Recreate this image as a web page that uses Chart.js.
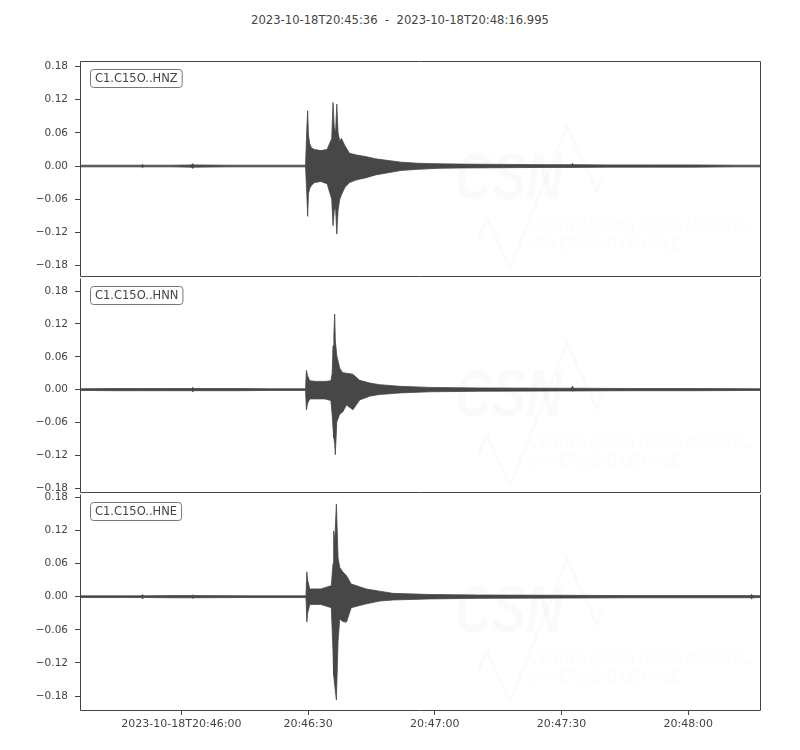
<!DOCTYPE html>
<html>
<head>
<meta charset="utf-8">
<script src="https://cdn.jsdelivr.net/npm/chart.js@4.4.0/dist/chart.umd.min.js"></script>
<style>
body{margin:0;background:#fff;width:800px;height:750px;position:relative;overflow:hidden;font-family:"DejaVu Sans",sans-serif;}
#title{position:absolute;left:0;width:800px;top:13px;line-height:15px;text-align:center;font-size:11.6px;color:#444;white-space:pre;}
canvas{position:absolute;left:0;}
</style>
</head>
<body>
<div id="title">2023-10-18T20:45:36  -  2023-10-18T20:48:16.995</div>
<canvas id="c1" width="800" height="241" style="top:48px"></canvas>
<canvas id="c2" width="800" height="240" style="top:265px"></canvas>
<canvas id="c3" width="800" height="269" style="top:481px"></canvas>
<script>
// -------- data (seconds after 2023-10-18T20:45:36, envelope of each trace) --------
const channels = ['C1.C15O..HNZ', 'C1.C15O..HNN', 'C1.C15O..HNE'];
const tEnd = 160.995;

const tZ  = [0, 8, 14.5, 14.8, 15.1, 22, 26.3, 26.7, 27.1, 35, 45, 53.4, 53.7, 53.9, 54.1, 54.4, 54.8, 55.5, 57, 58.5, 59.6, 59.9, 60.2, 60.5, 60.8, 61.1, 61.5, 61.9, 62.7, 63.8, 65.5, 67.8, 70, 73, 76, 80, 85, 90, 100, 110, 116.3, 116.6, 116.9, 125, 135, 145, 155, 161];
const hiZ = [.0015, .0015, .0015, .003, .0015, .0015, .002, .004, .002, .0015, .0015, .0015, .068, .100, .055, .040, .033, .030, .028, .030, .050, .115, .070, .060, .112, .060, .045, .050, .037, .023, .020, .017, .013, .010, .007, .005, .004, .0035, .003, .0025, .0025, .005, .0025, .002, .002, .002, .0015, .0015];
const loZ = [-.0015, -.0015, -.0015, -.003, -.0015, -.0015, -.002, -.004, -.002, -.0015, -.0015, -.0015, -.052, -.091, -.050, -.040, -.035, -.030, -.028, -.032, -.060, -.108, -.080, -.075, -.123, -.080, -.060, -.052, -.039, -.030, -.025, -.021, -.016, -.012, -.008, -.006, -.004, -.0035, -.003, -.0025, -.0025, -.003, -.0025, -.002, -.002, -.002, -.0015, -.0015];

const tN  = [0, 8, 14.8, 20, 26.4, 26.7, 27, 38, 45, 53.4, 53.6, 53.9, 54.4, 56, 58, 59.4, 59.7, 59.9, 60.1, 60.3, 60.45, 60.8, 61.5, 62.2, 63.1, 64.6, 66.2, 68.6, 70.9, 75.8, 82.8, 94.6, 113.5, 116.3, 116.6, 116.9, 130, 146.7, 161];
const hiN = [.0015, .002, .002, .002, .002, .004, .002, .002, .0015, .0015, .035, .025, .016, .015, .015, .016, .030, .080, .100, .138, .090, .062, .039, .031, .030, .028, .017, .012, .009, .006, .004, .003, .0025, .0025, .006, .0025, .002, .002, .0015];
const loN = [-.0015, -.002, -.002, -.002, -.002, -.004, -.002, -.002, -.0015, -.0015, -.037, -.025, -.017, -.017, -.017, -.020, -.047, -.070, -.088, -.100, -.119, -.059, -.045, -.041, -.028, -.037, -.019, -.012, -.009, -.006, -.004, -.003, -.0025, -.0025, -.003, -.0025, -.002, -.002, -.0015];

const tE  = [0, 10, 14.5, 14.8, 15.1, 22, 26.4, 26.7, 27, 40, 53.5, 53.7, 53.9, 54.4, 57, 59.5, 59.9, 60.05, 60.3, 60.7, 61.1, 61.5, 62.2, 63.1, 64.2, 66.2, 67.8, 70.9, 74.1, 82.8, 94.6, 115, 130, 145, 158.7, 159, 159.3, 161];
const hiE = [.0015, .0015, .0015, .004, .0015, .002, .002, .003, .002, .0015, .0015, .045, .030, .014, .014, .020, .060, .119, .100, .168, .070, .053, .045, .038, .023, .018, .014, .010, .006, .004, .003, .0025, .002, .002, .002, .004, .002, .0015];
const loE = [-.0015, -.0015, -.0015, -.004, -.0015, -.002, -.002, -.003, -.002, -.0015, -.0015, -.046, -.030, -.014, -.014, -.020, -.100, -.142, -.160, -.187, -.080, -.040, -.045, -.046, -.020, -.016, -.013, -.008, -.006, -.004, -.003, -.0025, -.002, -.002, -.002, -.004, -.002, -.0015];

// y limits per panel
const yRangeZ = [-0.1984, 0.1895];
const yRangeN = [-0.1867, 0.2035];
const yRangeE = [-0.2052, 0.1854];

const yTickVals = [-0.18, -0.12, -0.06, 0, 0.06, 0.12, 0.18];
const yTickLabels = ['\u22120.18', '\u22120.12', '\u22120.06', '0.00', '0.06', '0.12', '0.18'];
const xTickSec = [24, 54, 84, 114, 144];
const xTickLabels = ['2023-10-18T20:46:00', '20:46:30', '20:47:00', '20:47:30', '20:48:00'];

const traceColor = '#474747';
const axisColor = '#444';
const wmColor = 'rgba(0,0,0,0.018)';

// -------- watermark, frame and channel label --------
function scaledText(ctx, txt, font, x, y, w){
    ctx.font = font;
    const m = ctx.measureText(txt).width;
    ctx.save();
    ctx.translate(x, y);
    ctx.scale(w / m, 1);
    ctx.fillText(txt, 0, 0);
    ctx.restore();
}

const panelDeco = {
    id: 'panelDeco',
    beforeDatasetsDraw(chart){
        const ctx = chart.ctx, T = chart.chartArea.top;
        ctx.save();
        ctx.fillStyle = wmColor; ctx.strokeStyle = wmColor;
        ctx.textBaseline = 'alphabetic';
        scaledText(ctx, 'CSN', 'italic bold 66px "Liberation Sans"', 455, T + 138, 108);
        scaledText(ctx, 'CENTRO SISMOLÓGICO NACIONAL', 'italic 17px "Liberation Sans"', 530, T + 170, 223);
        scaledText(ctx, 'UNIVERSIDAD DE CHILE', 'italic 17px "Liberation Sans"', 528, T + 188, 152);
        ctx.lineWidth = 3;
        ctx.beginPath();
        [[478, 177], [487, 157], [510, 207], [567, 65], [597, 130], [603, 115]].forEach((p, i) => {
            if(i === 0) ctx.moveTo(p[0], T + p[1]); else ctx.lineTo(p[0], T + p[1]);
        });
        ctx.stroke();
        ctx.restore();
    },
    afterDraw(chart, args, opts){
        const ctx = chart.ctx, a = chart.chartArea;
        const l = Math.round(a.left) + 0.5, r = Math.round(a.right) + 0.5;
        const t = Math.round(a.top) + 0.5, b = Math.round(a.bottom) + 0.5;
        ctx.save();
        ctx.strokeStyle = axisColor; ctx.lineWidth = 1;
        ctx.beginPath();
        if(opts.top){ ctx.moveTo(l, t); ctx.lineTo(r, t); }
        ctx.moveTo(l, t); ctx.lineTo(l, b); ctx.lineTo(r, b); ctx.lineTo(r, t);
        ctx.stroke();
        // channel label box
        ctx.font = '11.5px "DejaVu Sans"';
        const w = ctx.measureText(opts.name).width + 9;
        const bx = Math.round(a.left) + 10.5, by = Math.round(a.top) + 8.5;
        ctx.beginPath();
        ctx.roundRect(bx, by, w, 18, 3);
        ctx.fillStyle = '#fff'; ctx.fill();
        ctx.strokeStyle = '#777'; ctx.stroke();
        ctx.fillStyle = axisColor;
        ctx.textBaseline = 'middle';
        ctx.fillText(opts.name, bx + 4.5, by + 9.5);
        ctx.restore();
    }
};

function makePanel(id, t, hi, lo, name, yRange, first, bottom){
    const pts = arr => arr.map((v, i) => ({x: t[i], y: v}));
    return new Chart(document.getElementById(id), {
        type: 'line',
        data: {datasets: [
            {data: pts(hi), borderColor: traceColor, backgroundColor: traceColor, borderWidth: 0.8, pointRadius: 0, fill: '+1', tension: 0},
            {data: pts(lo), borderColor: traceColor, backgroundColor: traceColor, borderWidth: 0.8, pointRadius: 0, fill: false, tension: 0}
        ]},
        options: {
            responsive: false, animation: false, devicePixelRatio: 1, events: [],
            layout: {padding: {left: 0, right: 40, top: 12, bottom: bottom ? 0 : 12}},
            plugins: {legend: {display: false}, tooltip: {enabled: false}, panelDeco: {name, top: first}},
            scales: {
                x: {
                    type: 'linear', min: 0, max: tEnd, display: bottom,
                    border: {display: false},
                    grid: {drawOnChartArea: false, color: axisColor, tickLength: 5},
                    ticks: {color: axisColor, font: {size: 11, family: 'DejaVu Sans'}, padding: 3, maxRotation: 0, autoSkip: false,
                            callback: (v, i) => xTickLabels[i]},
                    afterBuildTicks: s => { s.ticks = xTickSec.map(v => ({value: v})); },
                    afterFit: s => { s.height = bottom ? 40 : 0; }
                },
                y: {
                    min: yRange[0], max: yRange[1],
                    border: {display: false},
                    grid: {drawOnChartArea: false, color: axisColor, tickLength: 5},
                    ticks: {color: axisColor, font: {size: 10.5, family: 'DejaVu Sans'}, padding: 7, autoSkip: false,
                            callback: (v, i) => yTickLabels[i]},
                    afterBuildTicks: s => { s.ticks = yTickVals.map(v => ({value: v})); },
                    afterFit: s => { s.width = 80; }
                }
            }
        },
        plugins: [panelDeco]
    });
}

makePanel('c1', tZ, hiZ, loZ, channels[0], yRangeZ, true, false);
makePanel('c2', tN, hiN, loN, channels[1], yRangeN, false, false);
makePanel('c3', tE, hiE, loE, channels[2], yRangeE, false, true);
</script>
</body>
</html>
